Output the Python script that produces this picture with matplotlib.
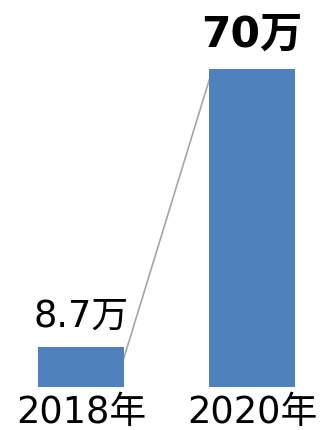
import matplotlib.pyplot as plt

years = ['2018年', '2020年']
users = [8.7, 70]
value_labels = ['8.7万', '70万']

fonts = ['DejaVu Sans', 'Noto Sans CJK JP']
bar_color = '#4F81BD'
width = 0.5

fig = plt.figure(figsize=(3.2, 4.31), dpi=100)
ax = fig.add_axes([0, 43 / 431, 1, 388 / 431])

x = range(len(years))
ax.bar(x, users, width=width, color=bar_color, zorder=2)

# connector between the two bar tops
drop = 2.4
ax.plot([x[0] + width / 2, x[1] - width / 2],
        [users[0] - drop, users[1] - drop],
        color='#A6A6A6', lw=1.2, zorder=1)

ax.annotate(value_labels[0], (x[0], users[0]), xytext=(0, 16),
            textcoords='offset points', ha='center', va='baseline',
            fontsize=26.5, family=fonts)
ax.annotate(value_labels[1], (x[1], users[1]), xytext=(0, 17),
            textcoords='offset points', ha='center', va='baseline',
            fontsize=30.5, fontweight='bold', family=fonts)

ax.set_xlim(-0.474, 1.398)
ax.set_ylim(0, 85.4)
ax.set_xticks(list(x))
ax.set_xticklabels(years, fontsize=26.5, family=fonts)
ax.tick_params(axis='x', length=0, pad=4)
ax.set_yticks([])
for s in ax.spines.values():
    s.set_visible(False)

plt.savefig('out.png')
plt.close()
